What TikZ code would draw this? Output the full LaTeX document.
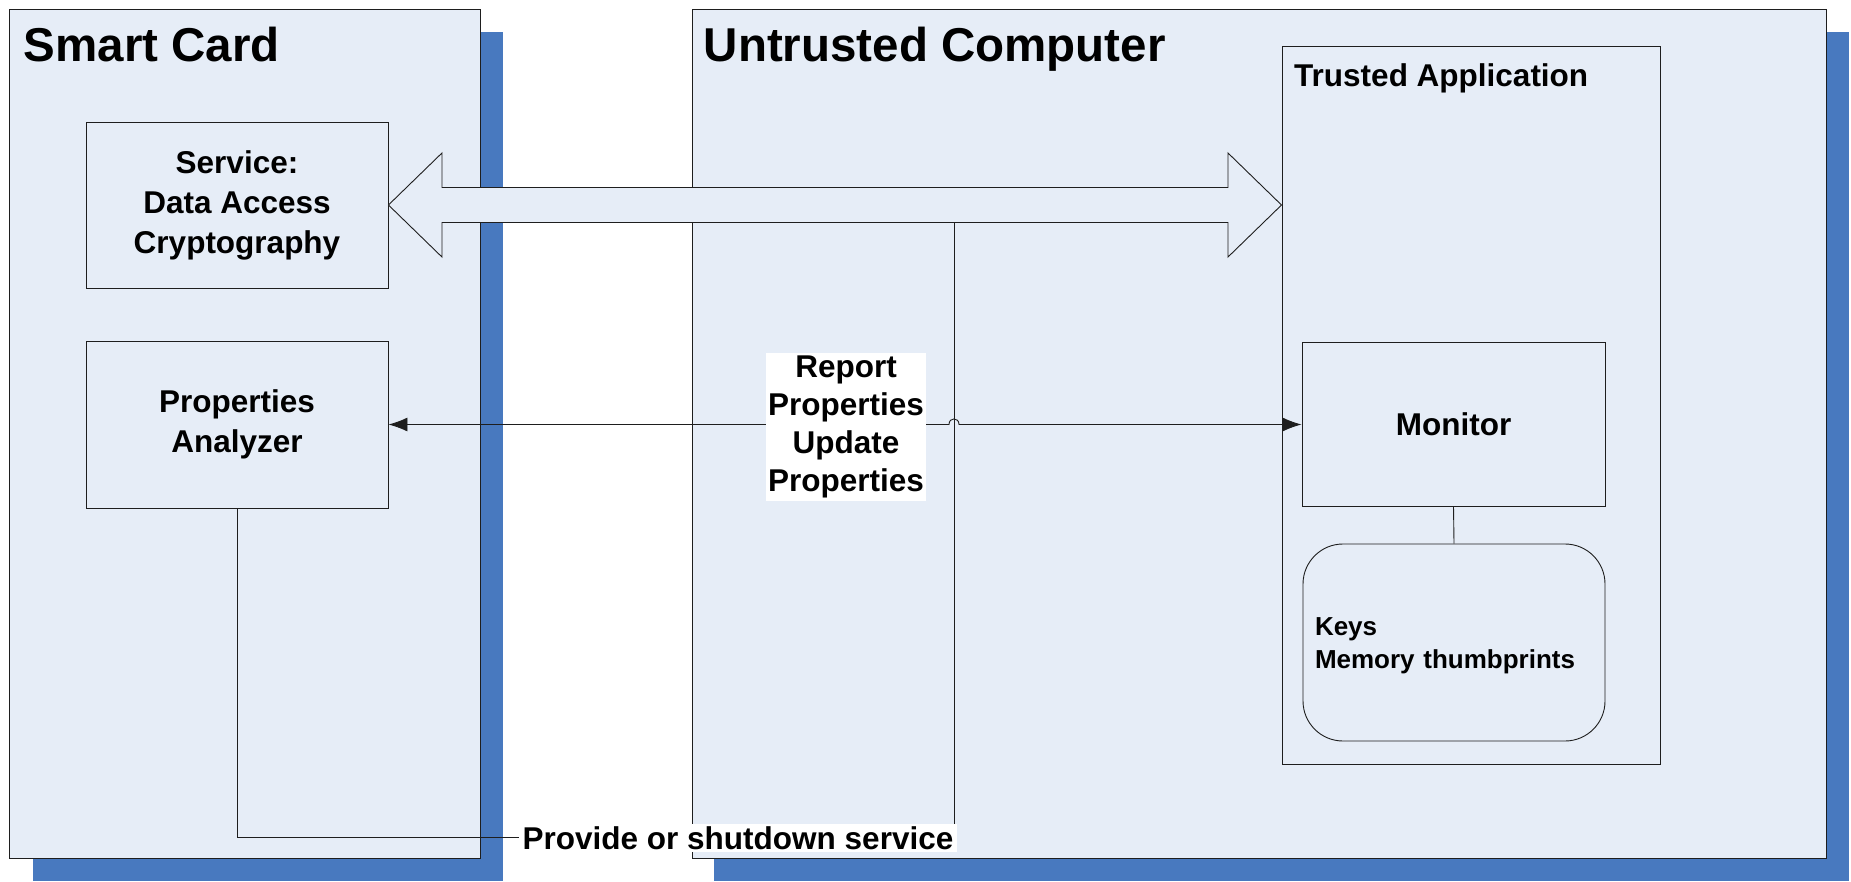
\documentclass[tikz,border=0pt]{standalone}
\usepackage{fontspec}
\setmainfont{Liberation Sans}
\usetikzlibrary{arrows.meta,calc}
\definecolor{boxfill}{RGB}{230,237,247}
\definecolor{shadowblue}{RGB}{72,121,191}
\definecolor{edge}{RGB}{30,30,30}
\begin{document}
\begin{tikzpicture}[x=1pt,y=-1pt,
  panel/.style={draw=edge,line width=1pt,fill=boxfill,inner sep=0pt},
  box/.style={draw=edge,line width=0.9pt,fill=boxfill,inner sep=0pt,align=center,font=\bfseries\fontsize{31.5}{40}\selectfont},
  conn/.style={draw=edge,line width=0.9pt},
  tipL/.style={{Latex[length=19pt,width=14pt]}-{Latex[length=19pt,width=14pt]}},
  title/.style={anchor=base west,inner sep=0pt,font=\bfseries\fontsize{47.5}{56}\selectfont},
  lbl/.style={fill=white,inner xsep=2pt,inner ysep=3pt,align=center,font=\bfseries\fontsize{31.5}{38}\selectfont}]

\useasboundingbox (0,0) rectangle (1851,881);

% shadows
\fill[shadowblue] (33,32) rectangle (503,881);
\fill[shadowblue] (714,32) rectangle (1849,881);

% panels
\node[panel, minimum width=471pt, minimum height=849pt] (sc) at (245,434) {};
\node[panel, minimum width=1134pt, minimum height=849pt] (uc) at (1259,434) {};
\node[panel, minimum width=378pt, minimum height=718pt] (ta) at (1471,405) {};

\node[title] (sct) at (23.6,61) {Smart Card};
\node[title] (uct) at (703.6,61) {Untrusted Computer};
\node[anchor=base west, inner sep=0pt, font=\bfseries\fontsize{31.5}{36}\selectfont] (tat) at (1294,86) {Trusted Application};

% inner boxes
\node[box, minimum width=302pt, minimum height=166pt] (svc) at (237,205) {Service:\\Data Access\\Cryptography};
\node[box, minimum width=302pt, minimum height=167pt] (pa) at (237,424.5) {Properties\\Analyzer};
\node[box, minimum width=303pt, minimum height=164pt] (mon) at (1453.5,424.5) {Monitor};
\node[box, rounded corners=40pt, minimum width=302pt, minimum height=197pt, text width=278pt, align=left, font=\bfseries\fontsize{26}{33}\selectfont] (keys) at (1454,642.5) {\rule{0pt}{24pt}Keys\\Memory thumbprints};

% double block arrow between service and trusted application
\coordinate (L) at (svc.east);
\coordinate (R) at (ta.west |- svc.east);
\draw[draw=edge, line width=0.9pt, fill=boxfill]
  (L) -- ($(L)+(53.5,-52)$) -- ($(L)+(53.5,-17.5)$) -- ($(R)+(-53.5,-17.5)$)
  -- ($(R)+(-53.5,-52)$) -- (R) -- ($(R)+(-53.5,52)$) -- ($(R)+(-53.5,17.5)$)
  -- ($(L)+(53.5,17.5)$) -- ($(L)+(53.5,52)$) -- cycle;
\coordinate (sbot) at ($(L)+(53.5,17.5)$);

% provide / shutdown connector
\coordinate (corner) at (954,837);
\draw[conn] (pa.south) |- (corner) -- (corner |- sbot);

% report / update connector with a hop
\draw[conn, tipL] (pa.east) -- (949,424.5) .. controls (949,417) and (959,417) .. (959,424.5) -- (mon.west);

% monitor to keys
\draw[conn] (mon.south) -- (keys.north);

% labels
\node[lbl] (rep) at (846,427) {Report\\Properties\\Update\\Properties};
\node[lbl, inner xsep=4pt, inner ysep=2pt] (prov) at (738,838) {Provide or shutdown service};
\end{tikzpicture}
\end{document}
